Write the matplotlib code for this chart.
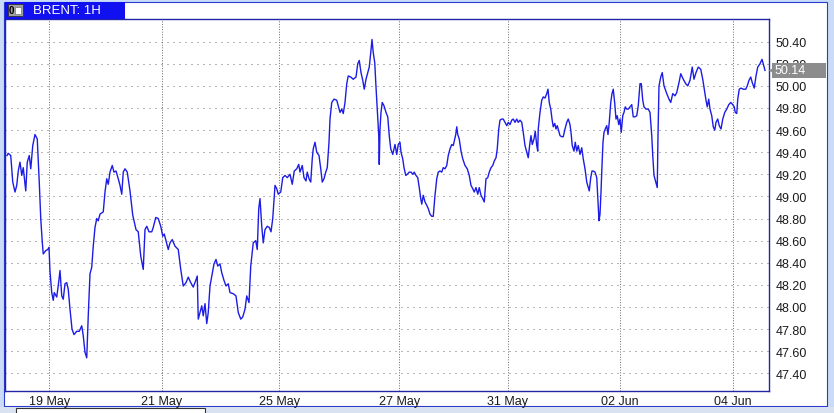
import matplotlib
matplotlib.use("Agg")
import matplotlib.pyplot as plt
import matplotlib.transforms as mtransforms
from matplotlib.patches import Rectangle

plt.rcParams['font.family'] = ['Liberation Sans', 'DejaVu Sans']

# hourly Brent prices (hours from the first bar)
hours = [
    0.0, 0.5, 1.5, 2.3, 3.2, 3.9, 4.5, 5.2, 5.9, 6.5, 7.5, 8.1, 8.9, 9.5, 10.3, 11.2, 12.1, 12.9,
    13.5, 14.1, 14.5, 15.5, 16.3, 16.8, 17.2, 17.9, 18.5, 18.9, 19.9, 20.7, 21.2, 21.9, 22.5, 23.2,
    23.9, 24.5, 25.2, 26.0, 26.8, 27.9, 28.9, 29.9, 30.5, 31.2, 31.9, 32.5, 33.2, 33.9, 34.5, 35.2,
    35.9, 36.5, 37.2, 38.5, 39.2, 39.9, 40.5, 41.2, 42.1, 42.8, 43.6, 44.5, 45.2, 45.9, 46.5, 47.2,
    48.1, 49.2, 50.3, 51.6, 52.5, 53.5, 54.5, 55.2, 55.9, 56.8, 57.9, 58.5, 59.5, 60.5, 61.5, 62.3,
    62.9, 63.6, 64.5, 65.2, 66.1, 67.2, 68.5, 69.5, 70.5, 71.6, 72.5, 73.5, 74.5, 75.5, 76.1, 76.5,
    77.2, 77.9, 78.5, 79.2, 79.9, 80.5, 81.2, 81.9, 82.8, 83.6, 84.3, 85.2, 85.9, 86.8, 87.6, 88.5,
    89.2, 90.5, 91.6, 92.5, 93.5, 94.3, 95.2, 95.9, 96.8, 97.5, 98.5, 99.5, 100.1, 100.7, 101.2,
    101.9, 102.5, 103.2, 104.1, 104.9, 105.6, 106.3, 107.2, 107.9, 108.5, 109.5, 110.3, 111.2,
    112.1, 113.2, 114.1, 114.9, 115.9, 116.7, 117.2, 118.1, 118.8, 119.6, 120.1, 120.8, 121.5,
    122.1, 122.5, 123.2, 123.9, 124.8, 125.5, 126.1, 126.8, 127.5, 128.1, 128.8, 129.2, 129.9,
    130.8, 131.9, 132.5, 133.2, 133.9, 134.5, 135.2, 135.9, 136.5, 137.5, 138.5, 139.6, 140.3,
    140.9, 141.6, 142.3, 142.9, 143.6, 144.3, 144.9, 145.5, 146.0, 146.5, 147.1, 147.6, 148.1,
    148.7, 148.9, 149.2, 149.6, 150.1, 150.8, 151.6, 152.3, 152.9, 153.5, 154.3, 154.9, 155.2,
    155.9, 156.5, 157.2, 157.6, 158.3, 158.8, 159.5, 160.1, 160.9, 161.6, 162.3, 162.9, 163.6,
    164.3, 164.9, 165.5, 165.9, 166.5, 167.2, 167.9, 168.5, 169.2, 169.9, 170.5, 171.2, 171.9,
    172.5, 173.2, 173.9, 174.5, 175.2, 175.9, 176.5, 177.2, 177.9, 178.5, 178.9, 179.5, 179.9,
    180.3, 180.9, 181.6, 182.3, 183.2, 184.1, 184.9, 185.6, 186.3, 186.9, 187.6, 188.3, 188.9,
    189.6, 190.3, 190.9, 191.6, 192.3, 192.9, 193.6, 194.3, 194.9, 195.6, 196.1, 196.7, 197.2,
    197.9, 198.5, 199.2, 199.9, 200.5, 201.2, 201.9, 202.5, 203.2, 203.9, 204.5, 205.2, 205.9,
    206.5, 207.2, 207.9, 208.5, 209.2, 209.6, 210.1, 210.8, 211.3, 211.9, 212.3, 212.5, 213.2,
    213.9, 214.5, 215.2, 215.9, 216.4, 216.9, 217.5, 218.0, 218.5, 219.1, 219.6, 220.1, 220.7,
    221.2, 221.9, 222.5, 223.2, 223.9, 224.5, 225.2, 225.6, 226.1, 226.8, 227.3, 227.9, 228.5,
    229.2, 229.9, 230.5, 231.2, 231.9, 232.5, 232.9, 233.5, 234.0, 234.5, 235.2, 235.9, 236.4,
    236.8, 237.2, 237.6, 238.0, 238.4, 238.8, 239.3, 239.9, 240.4, 240.9, 241.5, 242.0, 242.5,
    243.1, 243.6, 244.1, 244.7, 245.2, 245.7, 246.3, 246.8, 247.3, 247.9, 248.5, 249.2, 249.9,
    250.5, 251.2, 251.9, 252.5, 253.2, 253.7, 254.3, 254.8, 255.6, 256.5, 257.2, 257.9, 258.3,
    258.8, 259.5, 260.1, 260.4, 260.8, 261.5, 262.1, 262.8, 263.9, 264.8, 265.5, 266.3, 267.2,
    267.9, 268.8, 269.5, 270.5, 271.5, 272.3, 273.2, 274.1, 274.8, 275.6, 276.5, 277.5, 278.3,
    278.9, 279.6, 280.1, 280.7, 281.2, 281.9, 282.5, 283.1, 283.6, 284.3, 284.9, 285.6, 286.3,
    287.1, 287.9, 288.7, 289.5, 290.3, 290.9, 291.3, 291.9, 292.3, 292.9, 293.6, 294.5, 295.5,
    296.1, 296.8, 297.5, 298.1, 298.9, 299.6, 300.3, 301.2, 302.0, 302.5, 303.2,
]
prices = [
    49.37, 49.39, 49.37, 49.13, 49.04, 49.10, 49.23, 49.31, 49.19, 49.26, 49.05, 49.31, 49.37, 49.25,
    49.46, 49.56, 49.52, 49.13, 48.80, 48.59, 48.48, 48.51, 48.52, 48.54, 48.32, 48.13, 48.06, 48.13,
    48.09, 48.23, 48.33, 48.10, 48.07, 48.21, 48.22, 48.16, 47.98, 47.80, 47.75, 47.78, 47.78, 47.83,
    47.74, 47.59, 47.54, 47.92, 48.30, 48.36, 48.55, 48.72, 48.80, 48.78, 48.84, 48.86, 49.04, 49.16,
    49.11, 49.22, 49.28, 49.22, 49.23, 49.16, 49.10, 49.02, 49.22, 49.25, 49.22, 49.05, 48.83, 48.70,
    48.68, 48.46, 48.34, 48.70, 48.73, 48.68, 48.68, 48.72, 48.81, 48.80, 48.73, 48.64, 48.66, 48.60,
    48.52, 48.58, 48.61, 48.55, 48.52, 48.34, 48.19, 48.22, 48.27, 48.22, 48.18, 48.24, 48.28, 47.89,
    47.95, 48.01, 47.92, 48.03, 47.85, 47.95, 48.19, 48.28, 48.39, 48.43, 48.37, 48.39, 48.31, 48.24,
    48.19, 48.21, 48.13, 48.12, 48.10, 47.95, 47.89, 47.91, 47.98, 48.10, 48.04, 48.37, 48.58, 48.60,
    48.52, 48.89, 48.98, 48.73, 48.58, 48.70, 48.73, 48.72, 48.68, 48.80, 49.10, 49.07, 49.02, 49.04,
    49.17, 49.19, 49.17, 49.20, 49.11, 49.23, 49.25, 49.29, 49.22, 49.28, 49.17, 49.14, 49.22, 49.16,
    49.13, 49.34, 49.43, 49.49, 49.40, 49.37, 49.25, 49.13, 49.16, 49.22, 49.26, 49.49, 49.70, 49.85,
    49.88, 49.87, 49.82, 49.76, 49.79, 49.75, 49.85, 50.02, 50.09, 50.08, 50.06, 50.08, 50.20, 50.23,
    50.12, 50.05, 49.97, 50.06, 50.12, 50.17, 50.30, 50.42, 50.30, 50.21, 49.99, 49.79, 49.55, 49.29,
    49.61, 49.76, 49.85, 49.82, 49.76, 49.72, 49.55, 49.43, 49.38, 49.44, 49.47, 49.38, 49.47, 49.49,
    49.40, 49.34, 49.26, 49.19, 49.20, 49.22, 49.22, 49.20, 49.22, 49.19, 49.17, 49.08, 48.98, 48.93,
    49.01, 48.95, 48.92, 48.89, 48.84, 48.82, 48.82, 49.01, 49.16, 49.22, 49.23, 49.22, 49.26, 49.25,
    49.28, 49.37, 49.43, 49.47, 49.46, 49.50, 49.56, 49.63, 49.56, 49.52, 49.41, 49.34, 49.28, 49.25,
    49.19, 49.10, 49.07, 49.04, 49.08, 49.02, 49.08, 49.01, 48.98, 48.95, 49.16, 49.17, 49.22, 49.26,
    49.28, 49.32, 49.35, 49.43, 49.61, 49.69, 49.70, 49.70, 49.67, 49.64, 49.67, 49.65, 49.69, 49.70,
    49.67, 49.70, 49.67, 49.69, 49.67, 49.58, 49.46, 49.40, 49.35, 49.49, 49.55, 49.47, 49.52, 49.59,
    49.46, 49.41, 49.61, 49.76, 49.87, 49.90, 49.89, 49.93, 49.97, 49.85, 49.79, 49.70, 49.63, 49.66,
    49.61, 49.64, 49.59, 49.55, 49.54, 49.54, 49.61, 49.67, 49.70, 49.65, 49.58, 49.46, 49.41, 49.49,
    49.41, 49.46, 49.38, 49.44, 49.34, 49.25, 49.13, 49.08, 49.05, 49.17, 49.23, 49.23, 49.22, 49.17,
    48.96, 48.78, 48.84, 49.04, 49.28, 49.49, 49.58, 49.61, 49.64, 49.56, 49.67, 49.85, 49.93, 49.97,
    49.84, 49.70, 49.73, 49.65, 49.70, 49.58, 49.73, 49.76, 49.81, 49.79, 49.79, 49.81, 49.83, 49.72,
    49.72, 49.73, 49.82, 50.02, 50.02, 49.87, 49.81, 49.79, 49.79, 49.76, 49.55, 49.37, 49.19, 49.13,
    49.08, 49.55, 50.00, 50.08, 50.12, 50.00, 49.93, 49.88, 49.85, 49.93, 49.91, 49.94, 50.03, 50.11,
    50.06, 50.02, 50.00, 50.05, 50.17, 50.06, 50.12, 50.17, 50.15, 50.06, 49.97, 49.87, 49.81, 49.88,
    49.79, 49.73, 49.63, 49.60, 49.67, 49.70, 49.64, 49.61, 49.70, 49.76, 49.79, 49.83, 49.85, 49.83,
    49.81, 49.76, 49.75, 49.88, 49.97, 49.98, 49.97, 49.97, 50.00, 50.05, 50.08, 50.03, 49.98, 50.09,
    50.17, 50.20, 50.24, 50.20, 50.14,
]

day_hours = [16.9, 62.0, 108.9, 156.9, 200.4, 245.2, 290.4]
day_labels = ['19 May', '21 May', '25 May', '27 May', '31 May', '02 Jun', '04 Jun']
price_ticks = [47.40, 47.60, 47.80, 48.00, 48.20, 48.40, 48.60, 48.80,
               49.00, 49.20, 49.40, 49.60, 49.80, 50.00, 50.20, 50.40]
last_price = 50.14
title = 'BRENT: 1H'

W, H = 834, 414
fig = plt.figure(figsize=(W / 100, H / 100), dpi=100)

# window chrome, drawn in pixel units
bg = fig.add_axes([0, 0, 1, 1])
bg.set_xlim(0, W); bg.set_ylim(H, 0); bg.axis('off')
bg.add_patch(Rectangle((0, 0), W, H, fc='#c9dbf6', ec='none'))
bg.add_patch(Rectangle((4, 3), 823, 404, fc='white', ec='#2a3cd0', lw=0.8))
bg.add_patch(Rectangle((0, 408), W, 6, fc='#d8e2f0', ec='none'))
bg.add_patch(Rectangle((16, 409), 189, 8, fc='white', ec='#333333', lw=0.8))

ax = fig.add_axes([5 / W, (H - 392) / H, 764 / W, 372 / H])
ax.set_facecolor('white')
ax.plot(hours, prices, color='#1c1ce6', lw=1.0, zorder=3)
ax.set_xlim(-0.8, 304.8)
ax.set_ylim(47.24, 50.605)

ax.set_xticks(day_hours, day_labels)
ax.set_yticks(price_ticks, [f'{p:.2f}' for p in price_ticks])
ax.yaxis.tick_right()
ax.tick_params(axis='both', length=0, labelsize=9, colors='#1a1a1a')
ax.tick_params(axis='x', pad=3)
ax.tick_params(axis='y', pad=5)
ax.grid(axis='y', color='#707070', lw=0.72, linestyle=(0, (1, 5)))
ax.grid(axis='x', color='#707070', lw=0.72, linestyle=(0, (1, 1.6)))
for s in ax.spines.values():
    s.set_color('#2424a8')
    s.set_linewidth(1.0)

# last price marker on the right axis
tr = mtransforms.blended_transform_factory(ax.transAxes, ax.transData)
ax.add_patch(Rectangle((1 + 3 / 764, last_price - 0.066), 54 / 764, 0.132, transform=tr,
                       fc='#8c8c8c', ec='none', clip_on=False, zorder=6))
ax.plot([1 + 2 / 764], [last_price], marker='<', ms=5, color='#8c8c8c', mec='none',
        transform=tr, clip_on=False, zorder=6)
ax.text(1 + 6 / 764, last_price, f'{last_price:.2f}', transform=tr, fontsize=9, color='white',
        va='center', ha='left', clip_on=False, zorder=7)

# title tab
top = fig.add_axes([0, 0, 1, 1], zorder=10)
top.set_xlim(0, W); top.set_ylim(H, 0); top.axis('off')
top.add_patch(Rectangle((5, 3), 120, 17, fc='#1010f0', ec='none'))
top.add_patch(Rectangle((8, 5), 15, 12, fc='#a0a0a0', ec='#303030', lw=0.6))
top.add_patch(Rectangle((15, 7.5), 6, 7, fc='white', ec='#606060', lw=0.4))
top.text(11.5, 11.3, '0', fontsize=7, color='black', ha='center', va='center', fontweight='bold')
top.text(33, 11.5, title, fontsize=9.5, color='white', ha='left', va='center')

fig.savefig('out.png', dpi=100)
